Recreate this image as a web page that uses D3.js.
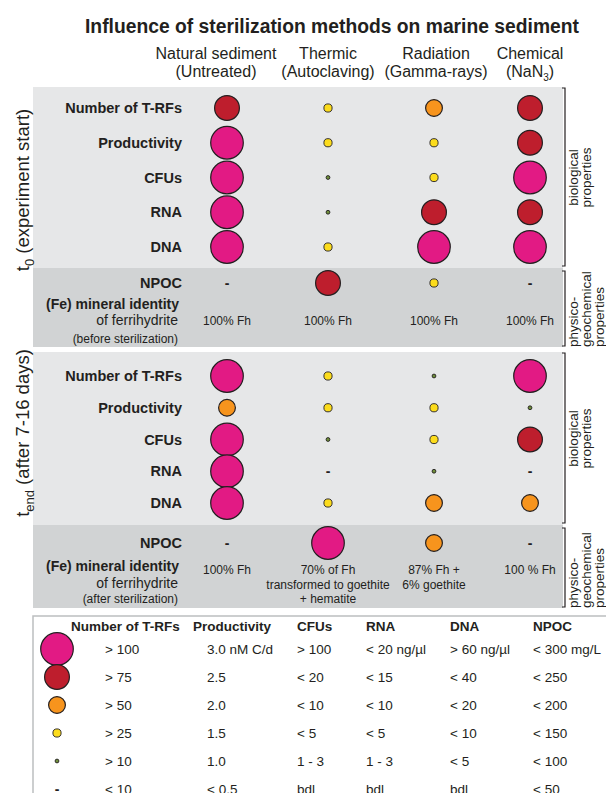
<!DOCTYPE html>
<html>
<head>
<meta charset="utf-8">
<script src="https://cdn.jsdelivr.net/npm/d3@7"></script>
<style>
body { margin: 0; background: #fff; }
svg { display: block; font-family: "Liberation Sans", Arial, Helvetica, sans-serif; }
</style>
</head>
<body>
<svg id="chart"></svg>
<script>
// ---- data ----
const treatments = ["Natural sediment", "Thermic", "Radiation", "Chemical"];
const treatmentNotes = ["(Untreated)", "(Autoclaving)", "(Gamma-rays)", "(NaN|3|)"];
const bioProperties = ["Number of T-RFs", "Productivity", "CFUs", "RNA", "DNA"];

// level: 0 = "-" (bdl), 1 = tiny dot ... 5 = largest circle
const startBio = [
  [4, 2, 3, 4],
  [5, 2, 2, 4],
  [5, 1, 2, 5],
  [5, 1, 4, 4],
  [5, 2, 5, 5]
];
const startNpoc = [0, 4, 2, 0];
const startMineral = [["100% Fh"], ["100% Fh"], ["100% Fh"], ["100% Fh"]];

const endBio = [
  [5, 2, 1, 5],
  [3, 2, 2, 1],
  [5, 1, 2, 4],
  [5, 0, 1, 0],
  [5, 2, 3, 3]
];
const endNpoc = [0, 5, 3, 0];
const endMineral = [["100% Fh"], ["70% of Fh", "transformed to goethite", "+ hematite"], ["87% Fh +", "6% goethite"], ["100 % Fh"]];

const legendLevels = [5, 4, 3, 2, 1, 0];
const legendHeaders = ["Number of T-RFs", "Productivity", "CFUs", "RNA", "DNA", "NPOC"];
const legendTrf = ["> 100", "> 75", "> 50", "> 25", "> 10", "< 10"];
const legendProd = ["3.0 nM C/d", "2.5", "2.0", "1.5", "1.0", "< 0.5"];
const legendCfu = ["> 100", "< 20", "< 10", "< 5", "1 - 3", "bdl"];
const legendRna = ["< 20 ng/µl", "< 15", "< 10", "< 5", "1 - 3", "bdl"];
const legendDna = ["> 60 ng/µl", "< 40", "< 20", "< 10", "< 5", "bdl"];
const legendNpoc = ["< 300 mg/L", "< 250", "< 200", "< 150", "< 100", "< 50"];

// ---- drawing ----
const W = 606, H = 793;
const ink = "#231f20";
const svg = d3.select("#chart").attr("width", W).attr("height", H);

const x = d3.scaleOrdinal().domain(treatments).range([227, 328, 434, 530]);
const radius = d3.scaleOrdinal().domain([1, 2, 3, 4, 5]).range([1.9, 4.1, 8.4, 12.4, 16.3]);
const color = d3.scaleOrdinal().domain([1, 2, 3, 4, 5]).range(["#6f8f3a", "#fcdc1c", "#f7941d", "#be1e2d", "#e21a84"]);

svg.append("text")
  .attr("x", 332).attr("y", 33)
  .attr("text-anchor", "middle")
  .attr("textLength", 494).attr("lengthAdjust", "spacingAndGlyphs")
  .style("font-size", "20px").style("font-weight", "bold").style("fill", ink)
  .text("Influence of sterilization methods on marine sediment");

// column headings
const headShift = [-11, 0, 2, 0];
treatments.forEach((t, i) => {
  svg.append("text")
    .attr("x", x(t) + headShift[i]).attr("y", 59)
    .attr("text-anchor", "middle")
    .style("font-size", "16px").style("fill", ink)
    .text(t);
  const parts = treatmentNotes[i].split("|");
  const tx = svg.append("text")
    .attr("x", x(t) + headShift[i]).attr("y", 77)
    .attr("text-anchor", "middle")
    .style("font-size", "16px").style("fill", ink);
  tx.append("tspan").text(parts[0]);
  if (parts.length > 1) {
    tx.append("tspan").attr("dy", 4).style("font-size", "10px").text(parts[1]);
    tx.append("tspan").attr("dy", -4).text(parts[2]);
  }
});

function mark(g, level, cx, cy) {
  if (level === 0) {
    g.append("text")
      .attr("x", cx).attr("y", cy + 5)
      .attr("text-anchor", "middle")
      .style("font-size", "14px").style("font-weight", "bold").style("fill", ink)
      .text("-");
  } else {
    g.append("circle")
      .attr("cx", cx).attr("cy", cy)
      .attr("r", radius(level))
      .attr("fill", color(level))
      .attr("stroke", ink)
      .attr("stroke-width", level > 2 ? 1.2 : 0.9);
  }
}

const panels = [
  { bio: startBio, npoc: startNpoc, mineral: startMineral, top: 87, split: 268, bottom: 347,
    rows: [108, 247], npocY: 283, feY: [309, 325, 343], minY: 325, note: "(before sterilization)",
    label: ["t", "0", " (experiment start)"], labelY: 190 },
  { bio: endBio, npoc: endNpoc, mineral: endMineral, top: 352, split: 525, bottom: 608,
    rows: [376, 503], npocY: 543, feY: [571, 588, 603], minY: 574, note: "(after sterilization)",
    label: ["t", "end", " (after 7-16 days)"], labelY: 433 }
];

panels.forEach(p => {
  const g = svg.append("g");
  g.append("rect").attr("x", 33).attr("y", p.top).attr("width", 530).attr("height", p.split - p.top).attr("fill", "#e6e7e8");
  g.append("rect").attr("x", 33).attr("y", p.split).attr("width", 530).attr("height", p.bottom - p.split).attr("fill", "#d1d3d4");

  const y = d3.scalePoint().domain(bioProperties).range(p.rows);

  // row labels
  bioProperties.forEach(name => {
    g.append("text")
      .attr("x", 182).attr("y", y(name) + 5)
      .attr("text-anchor", "end")
      .style("font-size", "14.5px").style("font-weight", "bold").style("fill", ink)
      .text(name);
  });
  g.append("text").attr("x", 182).attr("y", p.npocY + 5).attr("text-anchor", "end")
    .style("font-size", "14.5px").style("font-weight", "bold").style("fill", ink).text("NPOC");
  g.append("text").attr("x", 179).attr("y", p.feY[0]).attr("text-anchor", "end")
    .style("font-size", "14px").style("font-weight", "bold").style("fill", ink).text("(Fe) mineral identity");
  g.append("text").attr("x", 178).attr("y", p.feY[1]).attr("text-anchor", "end")
    .style("font-size", "14px").style("fill", ink).text("of ferrihydrite");
  g.append("text").attr("x", 178).attr("y", p.feY[2]).attr("text-anchor", "end")
    .style("font-size", "12px").style("fill", ink).text(p.note);

  // marks
  p.bio.forEach((row, r) => {
    row.forEach((lv, c) => mark(g, lv, x(treatments[c]), y(bioProperties[r])));
  });
  p.npoc.forEach((lv, c) => mark(g, lv, x(treatments[c]), p.npocY));

  // mineral identity text
  p.mineral.forEach((lines, c) => {
    lines.forEach((ln, k) => {
      g.append("text")
        .attr("x", x(treatments[c])).attr("y", p.minY + k * 14.5)
        .attr("text-anchor", "middle")
        .style("font-size", "12px").style("fill", ink)
        .text(ln);
    });
  });

  // brackets on the right
  const bx = 565;
  [[p.top + 1, p.split - 2], [p.split + 3, p.bottom - 1]].forEach(([a, b]) => {
    g.append("path")
      .attr("d", `M${bx - 3},${a}H${bx}V${b}H${bx - 3}`)
      .attr("fill", "none").attr("stroke", ink).attr("stroke-width", 1.2);
  });
  const bio = g.append("text")
    .attr("transform", `translate(578,${(p.top + p.split) / 2}) rotate(-90)`)
    .attr("text-anchor", "middle")
    .style("font-size", "13.5px").style("fill", ink);
  bio.append("tspan").attr("x", 0).attr("y", 0).text("biological");
  bio.append("tspan").attr("x", 0).attr("y", 13).text("properties");
  const phy = g.append("text")
    .attr("transform", `translate(578,${p.bottom}) rotate(-90)`)
    .attr("text-anchor", "start")
    .style("font-size", "13.5px").style("fill", ink);
  ["physico-", "geochemical", "properties"].forEach((s, k) => {
    phy.append("tspan").attr("x", 0).attr("y", k * 13).text(s);
  });

  // time label on the left
  const lab = svg.append("text")
    .attr("transform", `translate(29,${p.labelY}) rotate(-90)`)
    .attr("text-anchor", "middle")
    .style("font-size", "18.5px").style("fill", ink);
  lab.append("tspan").text(p.label[0]);
  lab.append("tspan").attr("dy", 5).style("font-size", "13px").text(p.label[1]);
  lab.append("tspan").attr("dy", -5).text(p.label[2]);
});

// ---- legend ----
const lg = svg.append("g");
lg.append("rect").attr("x", 33).attr("y", 616).attr("width", 600).attr("height", 220)
  .attr("fill", "none").attr("stroke", "#bcbec0").attr("stroke-width", 1.5);

const ly = d3.scalePoint().domain(legendLevels).range([649, 789]);
legendLevels.forEach(lv => mark(lg, lv, 57, ly(lv)));

const legendCols = [legendTrf, legendProd, legendCfu, legendRna, legendDna, legendNpoc];
const headX = d3.scaleOrdinal().domain(legendHeaders).range([71, 193, 297, 366, 450, 533]);
const valueShift = [34, 14, 0, 0, 0, 0];
legendHeaders.forEach((h, i) => {
  lg.append("text")
    .attr("x", headX(h)).attr("y", 631)
    .style("font-size", "13.5px").style("font-weight", "bold").style("fill", ink)
    .text(h);
  legendCols[i].forEach((v, r) => {
    lg.append("text")
      .attr("x", headX(h) + valueShift[i]).attr("y", ly(legendLevels[r]) + 5)
      .style("font-size", "13.5px").style("fill", ink)
      .text(v);
  });
});
</script>
</body>
</html>
